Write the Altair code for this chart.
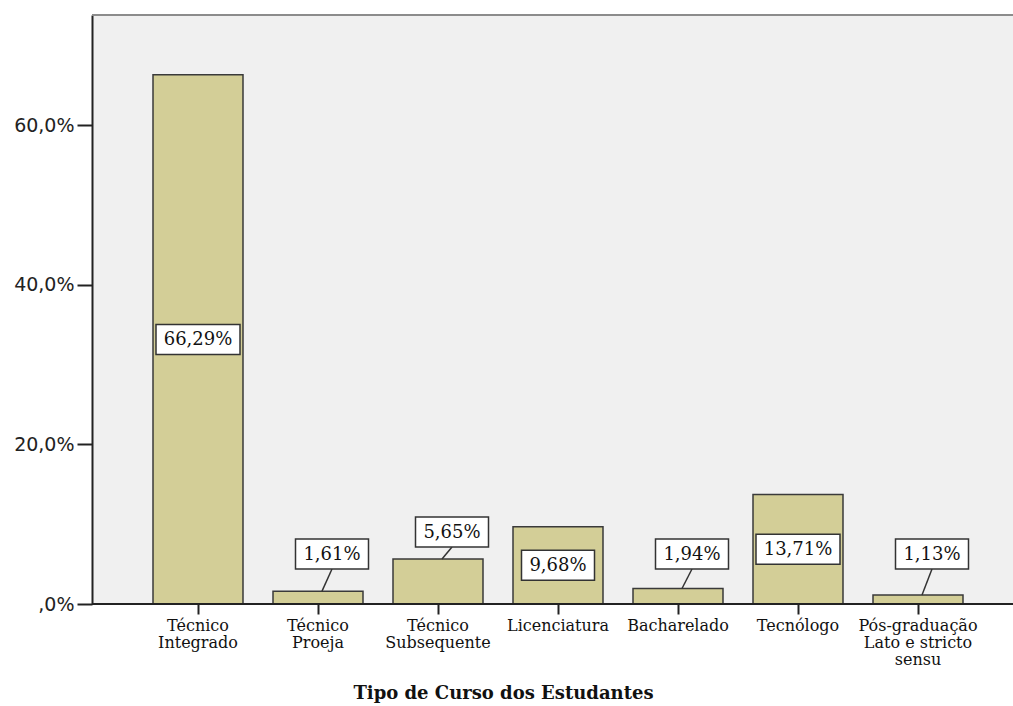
import altair as alt
import pandas as pd

# ---- data ----
categories = [
    "Técnico\nIntegrado",
    "Técnico\nProeja",
    "Técnico\nSubsequente",
    "Licenciatura",
    "Bacharelado",
    "Tecnólogo",
    "Pós-graduação\nLato e stricto\nsensu",
]
percentages = [66.29, 1.61, 5.65, 9.68, 1.94, 13.71, 1.13]
y_ticks = [0, 20, 40, 60]
x_title = "Tipo de Curso dos Estudantes"

# ---- layout constants ----
PLOT_W, PLOT_H = 921, 589
Y_MAX = 73.78
PX_PER_UNIT = PLOT_H / Y_MAX

df = pd.DataFrame({"cat": categories, "value": percentages})
df["label"] = df["value"].map(lambda v: f"{v:.2f}".replace(".", ",") + "%")
df["inside"] = df["value"] > 8
floor_units = 50 / PX_PER_UNIT
gap_units = 27 / PX_PER_UNIT
df["label_y"] = [
    v / 2 if ins else max(floor_units, v + gap_units)
    for v, ins in zip(df["value"], df["inside"])
]
df["box_w"] = df["label"].str.len() * 11 + 18

x_scale = alt.Scale(range=[46, 886], paddingInner=0.25, paddingOuter=0.125)
y_scale = alt.Scale(domain=[0, Y_MAX], nice=False, zero=True)

x_axis = alt.Axis(
    labelExpr="split(datum.label, '\\n')",
    labelFont="DejaVu Serif",
    labelFontSize=16,
    labelColor="#111",
    labelAngle=0,
    labelPadding=3,
    labelLineHeight=17,
    labelBaseline="top",
    labelOverlap=False,
    labelLimit=300,
    tickSize=10,
    tickColor="#222",
    tickWidth=2,
    domain=False,
    titleFont="DejaVu Serif",
    titleFontSize=18,
    titleFontWeight="bold",
    titleColor="#111",
    titleX=411,
    titleY=94,
    titleAlign="center",
    titleBaseline="alphabetic",
)
y_axis = alt.Axis(
    values=y_ticks,
    labelExpr="datum.value == 0 ? ',0%' : replace(format(datum.value, '.1f'), '.', ',') + '%'",
    labelFont="DejaVu Sans",
    labelFontSize=19,
    labelColor="#222",
    labelPadding=3,
    tickSize=15,
    tickColor="#222",
    tickWidth=2,
    domainColor="#222",
    domainWidth=2,
    grid=False,
    title=None,
)

base = alt.Chart(df)
X_enc = alt.X("cat:N", sort=categories, scale=x_scale, axis=x_axis, title=x_title)


def Y_enc(field):
    return alt.Y(field, type="quantitative", scale=y_scale, axis=y_axis, title=None)


bars = base.mark_bar(fill="#D3CE97", stroke="#3a3a3a", strokeWidth=1.5).encode(
    x=X_enc,
    y=Y_enc("value"),
)

outside = base.transform_filter("!datum.inside")
inside = base.transform_filter("datum.inside")

leader = outside.mark_rule(
    stroke="#333", strokeWidth=1.5, xOffset=4, x2Offset=14, y2Offset=15
).encode(
    x=X_enc,
    x2=alt.X2("cat"),
    y=Y_enc("value"),
    y2=alt.Y2("label_y"),
)


def boxes(src, dx):
    return src.mark_bar(
        fill="white", stroke="#333", strokeWidth=1.5, yOffset=-15, y2Offset=15, xOffset=dx
    ).encode(
        x=X_enc,
        y=Y_enc("label_y"),
        y2=alt.Y2("label_y"),
        size=alt.Size("box_w:Q", scale=None, legend=None),
    )


def texts(src, dx):
    return src.mark_text(
        font="DejaVu Serif", fontSize=18, color="#111", baseline="middle", align="center", dx=dx, dy=1
    ).encode(
        x=X_enc,
        y=Y_enc("label_y"),
        text="label:N",
    )


top_rule = base.mark_rule(color="#8c8c8c", strokeWidth=2).encode(y=alt.value(0))
bottom_rule = base.mark_rule(color="#222", strokeWidth=2).encode(y=alt.value(PLOT_H))

chart = (
    alt.layer(
        bars,
        leader,
        boxes(inside, 0),
        boxes(outside, 14),
        texts(inside, 0),
        texts(outside, 14),
        top_rule,
        bottom_rule,
    )
    .properties(
        width=PLOT_W,
        height=PLOT_H,
        autosize=alt.AutoSizeParams(type="none"),
        padding={"left": 92, "top": 15, "right": 0, "bottom": 102},
        background="white",
    )
    .configure_view(fill="#F0F0F0", stroke=None)
)

chart.save("out.html", embed_options={"renderer": "svg", "actions": False})
